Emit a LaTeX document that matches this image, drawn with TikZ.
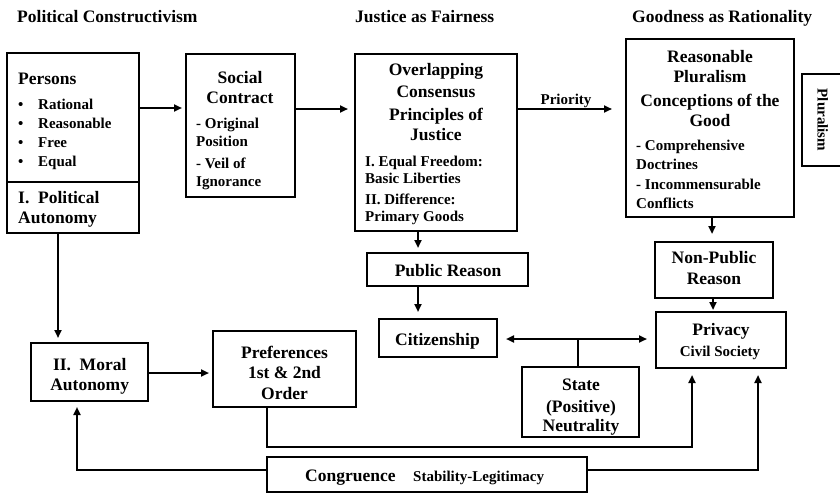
\documentclass[tikz,border=0pt]{standalone}
\usepackage{fontspec}
\setmainfont{Liberation Serif}
\usetikzlibrary{arrows.meta,calc}
\begin{document}
\begin{tikzpicture}[x=1pt,y=-1pt,
 box/.style={draw,line width=2.6pt,inner sep=0pt,outer sep=0pt},
 hd/.style={font=\fontsize{17.5}{20}\selectfont\bfseries,inner sep=0pt,anchor=base},
 hdl/.style={hd,anchor=base west},
 sm/.style={font=\fontsize{15}{18}\selectfont\bfseries,inner sep=0pt,anchor=base},
 sml/.style={sm,anchor=base west},
 conn/.style={line width=2pt},
 arr/.style={conn,-{Triangle[length=8pt,width=7pt]}},
 arrboth/.style={conn,{Triangle[length=8pt,width=7pt]}-{Triangle[length=8pt,width=7pt]}},
]
\useasboundingbox (0,0) rectangle (840,495);
\fill[white] (0,0) rectangle (840,495);

% titles
\node[hdl] (title1) at (17,22.7) {Political Constructivism};
\node[hdl] (title2) at (355,22.5) {Justice as Fairness};
\node[hdl] (title3) at (632,22.5) {Goodness as Rationality};

% boxes
\node[box,minimum width=132,minimum height=129] (persons) at (73,117.5) {};
\node[box,minimum width=132,minimum height=51] (polaut) at (73,207.5) {};
\node[box,minimum width=109,minimum height=143] (social) at (240.5,125.5) {};
\node[box,minimum width=162,minimum height=177] (overlap) at (436,142.5) {};
\node[box,minimum width=168,minimum height=178] (reas) at (710,128) {};
\begin{scope}
\clip (0,0) rectangle (840,495);
\node[box,minimum width=120,minimum height=92] (plur) at (862,120) {};
\end{scope}
\node[box,minimum width=118,minimum height=56] (nonpub) at (714,270) {};
\node[box,minimum width=130,minimum height=56] (privacy) at (721,340) {};
\node[box,minimum width=161,minimum height=33] (public) at (447.5,269.5) {};
\node[box,minimum width=118,minimum height=38] (citizen) at (438,338) {};
\node[box,minimum width=117,minimum height=70] (state) at (580.5,402) {};
\node[box,minimum width=117,minimum height=58] (moral) at (89.5,372) {};
\node[box,minimum width=143,minimum height=76] (pref) at (284.5,369) {};
\node[box,minimum width=320,minimum height=35] (cong) at (427,474.5) {};

% persons text
\node[hdl] (t-persons) at (18,84) {Persons};
\node[sml] (b1) at (18,109) {\textbullet};
\node[sml] (b2) at (18,128.3) {\textbullet};
\node[sml] (b3) at (18,147.5) {\textbullet};
\node[sml] (b4) at (18,166.7) {\textbullet};
\node[sml] (i1) at (38,109) {Rational};
\node[sml] (i2) at (38,128.3) {Reasonable};
\node[sml] (i3) at (38,147.5) {Free};
\node[sml] (i4) at (38,166.7) {Equal};
\node[hdl] (t-pa1) at (18,203) {I.\ \ Political};
\node[hdl] (t-pa2) at (18,223) {Autonomy};

% social contract
\node[hd] (t-s1) at (240,83.5) {Social};
\node[hd] (t-s2) at (240,103.5) {Contract};
\node[sml] (t-s3) at (196,128) {- Original};
\node[sml] (t-s4) at (196,146.7) {Position};
\node[sml] (t-s5) at (196,168) {- Veil of};
\node[sml] (t-s6) at (196,186) {Ignorance};

% overlapping consensus
\node[hd] (t-o1) at (436,75) {Overlapping};
\node[hd] (t-o2) at (436,97) {Consensus};
\node[hd] (t-o3) at (436,120) {Principles of};
\node[hd] (t-o4) at (436,140) {Justice};
\node[sml] (t-o5) at (365,166.4) {I. Equal Freedom:};
\node[sml] (t-o6) at (365,183) {Basic Liberties};
\node[sml] (t-o7) at (365,204.7) {II. Difference:};
\node[sml] (t-o8) at (365,221.4) {Primary Goods};

% reasonable pluralism
\node[hd] (t-r1) at (710,62.3) {Reasonable};
\node[hd] (t-r2) at (710,82.3) {Pluralism};
\node[hd] (t-r3) at (710,106.6) {Conceptions of the};
\node[hd] (t-r4) at (710,126.6) {Good};
\node[sml] (t-r5) at (636,150.7) {- Comprehensive};
\node[sml] (t-r6) at (636,169) {Doctrines};
\node[sml] (t-r7) at (636,189.8) {- Incommensurable};
\node[sml] (t-r8) at (636,208) {Conflicts};

\node[font=\fontsize{15}{18}\selectfont\bfseries,inner sep=0pt,rotate=-90] (t-plur) at (822.7,120) {Pluralism};

\node[hd] (t-n1) at (714,263.3) {Non-Public};
\node[hd] (t-n2) at (714,284.7) {Reason};
\node[hd] (t-p1) at (721,335) {Privacy};
\node[sm] (t-p2) at (720,356) {Civil Society};
\node[hd] (t-pub) at (448,276.7) {Public Reason};
\node[hd] (t-cit) at (437.5,345.7) {Citizenship};
\node[hd] (t-st1) at (581,390) {State};
\node[hd] (t-st2) at (581,412.6) {(Positive)};
\node[hd] (t-st3) at (581,431.6) {Neutrality};
\node[hd] (t-m1) at (89.7,370) {II.\ \ Moral};
\node[hd] (t-m2) at (89.7,390) {Autonomy};
\node[hd] (t-pr1) at (284.5,358.3) {Preferences};
\node[hd] (t-pr2) at (284.5,378.3) {1st \& 2nd};
\node[hd] (t-pr3) at (284.5,399) {Order};
\node[hdl] (t-c1) at (305,481.6) {Congruence};
\node[sml] (t-c2) at (413,481.4) {Stability-Legitimacy};

% connectors
\draw[arr,shorten >=4pt] ([yshift=-55pt]persons.north east) -- ([yshift=-54pt]social.north west);
\draw[arr,shorten >=7pt] ([yshift=-55pt]social.north east) -- ([yshift=-55pt]overlap.north west);
\draw[arr,shorten >=14pt] ([yshift=-55pt]overlap.north east) -- ([yshift=-70pt]reas.north west)
  node[sm,pos=0.45,above=5pt,anchor=base] (t-prio) {Priority};
\draw[arr,shorten >=8pt] ([xshift=2pt]reas.south) -- ([xshift=-2pt]nonpub.north);
\draw[arr,shorten >=2pt] ([xshift=-1pt]nonpub.south) -- ([xshift=-8pt]privacy.north);
\draw[arr,shorten >=5pt] ([xshift=-18pt]overlap.south) -- ([xshift=-29.5pt]public.north);
\draw[arr,shorten >=7pt] ([xshift=-29.5pt]public.south) -- ([xshift=-20pt]citizen.north);
\draw[arrboth,shorten <=9pt,shorten >=9pt] ([yshift=-1pt]citizen.east) -- ([yshift=1pt]privacy.west);
\draw[conn] ([xshift=-2.5pt]state.north) -- ([xshift=-2.5pt,yshift=27.5pt]state.north);
\draw[arr,shorten >=5pt] ([xshift=-15pt]polaut.south) -- ([xshift=-31.5pt]moral.north);
\draw[arr,shorten >=4pt] ([yshift=-1pt]moral.east) -- ([yshift=-4pt]pref.west);
\draw[arr,shorten >=7pt] ([xshift=-17.5pt]pref.south) -- ++(0,40) -| ([xshift=-29pt]privacy.south);
\draw[arr,shorten >=6pt] ([yshift=4.5pt]cong.west) -| ([xshift=-12.5pt]moral.south);
\draw[arr,shorten >=7pt] ([yshift=4.5pt]cong.east) -| ([xshift=37pt]privacy.south);
\end{tikzpicture}
\end{document}
